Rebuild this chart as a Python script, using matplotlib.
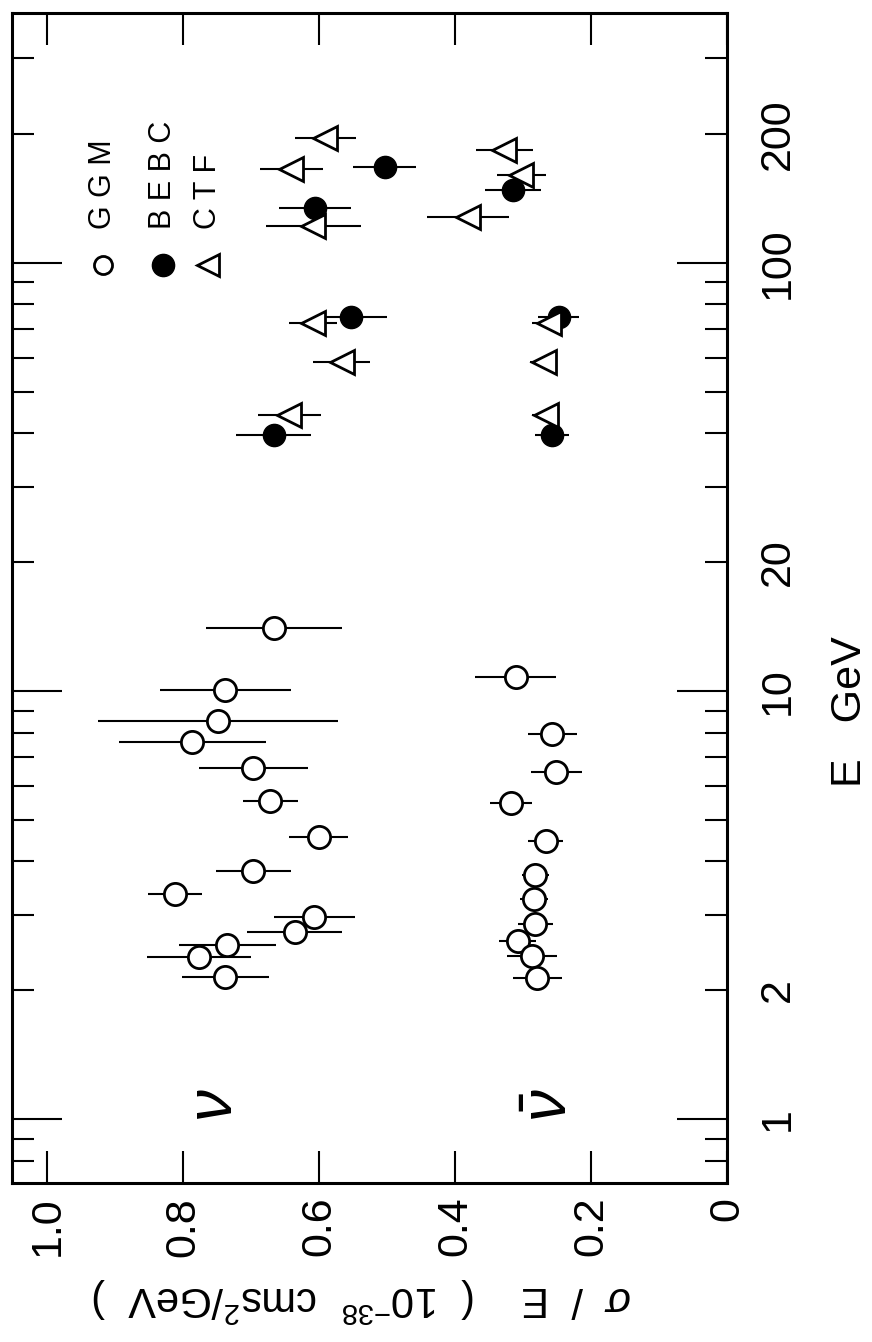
import matplotlib
matplotlib.use("Agg")
import matplotlib.pyplot as plt

plt.rcParams["font.family"] = ["Liberation Sans", "DejaVu Sans"]
plt.rcParams["mathtext.fontset"] = "custom"
plt.rcParams["mathtext.rm"] = "Liberation Sans"
plt.rcParams["mathtext.it"] = "Liberation Sans:italic"

# --- data (figure is drawn rotated: sigma/E runs right-to-left, E runs up) ---
# GGM, neutrino
ggm_nu_E = [14.0, 10.05, 8.5, 7.6, 6.6, 5.55, 4.57, 3.8, 3.36, 2.97, 2.74, 2.55, 2.39, 2.15]
ggm_nu_sig = [0.667, 0.738, 0.749, 0.787, 0.697, 0.672, 0.601, 0.697, 0.812, 0.607, 0.636, 0.735, 0.777, 0.738]
ggm_nu_err = [0.10, 0.096, 0.176, 0.108, 0.08, 0.04, 0.044, 0.055, 0.04, 0.06, 0.07, 0.072, 0.077, 0.064]
# GGM, antineutrino
ggm_nub_E = [10.8, 7.94, 6.47, 5.48, 4.47, 3.71, 3.26, 2.85, 2.61, 2.40, 2.14]
ggm_nub_sig = [0.311, 0.257, 0.251, 0.318, 0.267, 0.282, 0.284, 0.282, 0.308, 0.287, 0.279]
ggm_nub_err = [0.06, 0.036, 0.038, 0.031, 0.026, 0.02, 0.02, 0.026, 0.027, 0.037, 0.036]
# BEBC
bebc_nu_E = [167.5, 134, 74.8, 39.7]
bebc_nu_sig = [0.504, 0.606, 0.553, 0.667]
bebc_nu_err = [0.047, 0.053, 0.053, 0.055]
bebc_nub_E = [148, 74.6, 39.7]
bebc_nub_sig = [0.315, 0.248, 0.257]
bebc_nub_err = [0.041, 0.03, 0.025]
# CTF
ctf_nu_E = [195.6, 166, 122, 72.4, 58.8, 44]
ctf_nu_sig = [0.591, 0.641, 0.609, 0.609, 0.567, 0.644]
ctf_nu_err = [0.045, 0.046, 0.07, 0.035, 0.042, 0.046]
ctf_nub_E = [183, 160, 128, 72.4, 58.8, 44]
ctf_nub_sig = [0.328, 0.303, 0.381, 0.262, 0.27, 0.267]
ctf_nub_err = [0.042, 0.036, 0.06, 0.025, 0.02, 0.02]

sig_ticks = [1.0, 0.8, 0.6, 0.4, 0.2, 0]
sig_labels = ["1.0", "0.8", "0.6", "0.4", "0.2", "0"]
E_major = [1, 10, 100]
E_minor = [0.8, 0.9, 2, 3, 4, 5, 6, 7, 8, 9, 20, 30, 40, 50, 60, 70, 80, 90, 200, 300]
E_minor_labels = {2: "2", 20: "20", 200: "200"}

fig = plt.figure(figsize=(8.72, 13.42), dpi=100)
ax = fig.add_axes([0.0138, 0.1185, 0.82, 0.8718])

ms = 16
ebar = dict(ls="none", ecolor="black", elinewidth=1.5, capsize=0, zorder=3)

ax.errorbar(ggm_nu_sig, ggm_nu_E, xerr=ggm_nu_err, marker="o", ms=ms,
            mfc="white", mec="black", mew=2, **ebar)
ax.errorbar(ggm_nub_sig, ggm_nub_E, xerr=ggm_nub_err, marker="o", ms=ms,
            mfc="white", mec="black", mew=2, **ebar)
ax.errorbar(bebc_nu_sig, bebc_nu_E, xerr=bebc_nu_err, marker="o", ms=ms,
            mfc="black", mec="black", mew=1, **ebar)
ax.errorbar(bebc_nub_sig, bebc_nub_E, xerr=bebc_nub_err, marker="o", ms=ms,
            mfc="black", mec="black", mew=1, **ebar)
ax.errorbar(ctf_nu_sig, ctf_nu_E, xerr=ctf_nu_err, marker="<", ms=ms + 1,
            mfc="white", mec="black", mew=2, **ebar)
ax.errorbar(ctf_nub_sig, ctf_nub_E, xerr=ctf_nub_err, marker="<", ms=ms + 1,
            mfc="white", mec="black", mew=2, **ebar)

ax.set_xlim(1.052, 0)
ax.set_yscale("log")
ax.set_ylim(0.71, 383)

# sigma/E axis along the bottom (labels rotated like the scan)
ax.set_xticks(sig_ticks, sig_labels, rotation=90)
ax.tick_params(axis="x", which="major", direction="in", length=23, width=1.5,
               top=True, bottom=True, labelsize=31, pad=10)

# E axis on the right
ax.set_yticks(E_major, ["1", "10", "100"], rotation=90, va="center")
ax.set_yticks(E_minor, [E_minor_labels.get(v, "") for v in E_minor],
              minor=True, rotation=90, va="center")
ax.tick_params(axis="y", which="both", direction="in", left=True, right=True,
               labelleft=False, labelright=True, labelsize=31, pad=22, width=1.5)
ax.tick_params(axis="y", which="major", length=36)
ax.tick_params(axis="y", which="minor", length=16)

for s in ax.spines.values():
    s.set_linewidth(2.2)

# axis titles
ax.text(1.172, 0.403, "E   GeV", transform=ax.transAxes, rotation=90,
        ha="center", va="center", fontsize=31)
ax.text(0.49, -0.10, r"$\sigma$  /  E    (  10$^{-38}$  cms$^{2}$/GeV  )",
        transform=ax.transAxes, rotation=180, ha="center", va="center",
        fontsize=30)

# nu / nubar tags
ax.text(0.754, 1.08, r"$\nu$", rotation=90, ha="center", va="center", fontsize=46)
ax.text(0.26, 1.08, r"$\bar{\nu}$", rotation=90, ha="center", va="center", fontsize=46)

# hand-made legend
leg_x = [0.127, 0.211, 0.274]
leg_names = ["G G M", "B E B C", "C T F"]
leg_style = [dict(marker="o", mfc="white", mew=2, ms=13),
             dict(marker="o", mfc="black", mew=1, ms=16),
             dict(marker="<", mfc="white", mew=2, ms=16)]
for lx, name, st in zip(leg_x, leg_names, leg_style):
    ax.plot([lx], [0.785], transform=ax.transAxes, ls="none", mec="black",
            clip_on=False, **st)
    ax.text(lx, 0.815, name, transform=ax.transAxes, rotation=90,
            ha="center", va="bottom", fontsize=22)

fig.savefig("out.png", dpi=100)
